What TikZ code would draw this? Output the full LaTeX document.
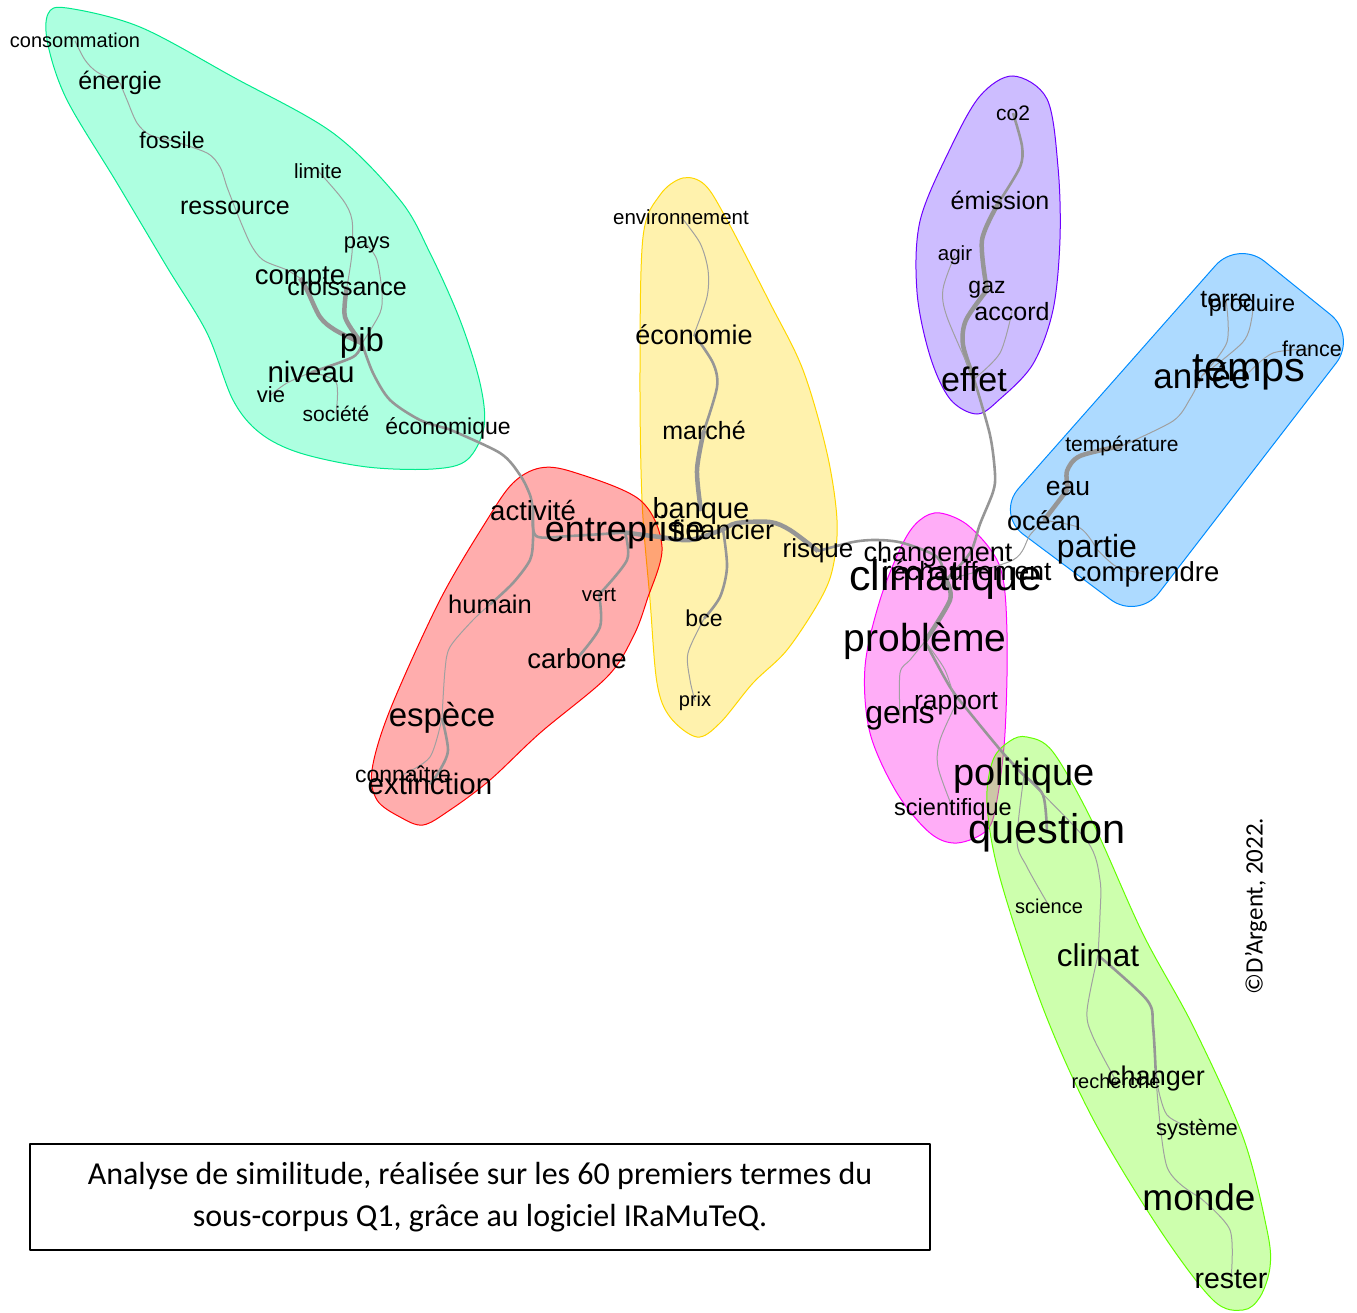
\documentclass[tikz,border=0pt]{standalone}
\usepackage{fontspec}
\setmainfont{Liberation Sans}
\newfontfamily\calfont{Carlito}
\usetikzlibrary{backgrounds}
\pgfdeclarelayer{hulls}
\pgfdeclarelayer{edges}
\pgfsetlayers{hulls,edges,main}
\newcommand\fz[1]{\fontsize{#1}{#1}\selectfont}
\newcommand\wordnode[5]{\node[wnode, font=\fz{#4}] (#1) at (#2,{#3+0.3*#4}) {#5};}
\definecolor{cMint}{RGB}{0,255,160}\definecolor{bMint}{RGB}{0,235,140}
\definecolor{cYel}{RGB}{255,215,0}\definecolor{bYel}{RGB}{255,215,0}
\definecolor{cRed}{RGB}{255,0,0}\definecolor{bRed}{RGB}{255,0,0}
\definecolor{cPur}{RGB}{100,50,255}\definecolor{bPur}{RGB}{110,0,255}
\definecolor{cBlu}{RGB}{0,140,255}\definecolor{bBlu}{RGB}{0,140,255}
\definecolor{cMag}{RGB}{255,0,230}\definecolor{bMag}{RGB}{255,0,255}
\definecolor{cLgr}{RGB}{100,255,0}\definecolor{bLgr}{RGB}{100,255,0}
\definecolor{edgegray}{RGB}{150,150,150}
\definecolor{thingray}{RGB}{160,160,160}
\tikzset{
  wnode/.style={inner sep=0pt, anchor=base, text=black},
  hull/.style={line width=1pt, fill opacity=0.32},
  ethin/.style={draw=thingray, line width=1pt},
  emed/.style={draw=edgegray, line width=2.6pt},
  ethick/.style={draw=edgegray, line width=4.5pt},
}
\begin{document}
\begin{tikzpicture}[x=1pt,y=-1pt, line join=round, line cap=round]
\useasboundingbox (0,0) rectangle (1357,1313);
% ---------- words ----------
% mint cluster
\wordnode{consommation}{75}{42}{20}{consommation}
\wordnode{energie}{120}{82}{25}{énergie}
\wordnode{fossile}{172}{142}{23}{fossile}
\wordnode{limite}{318}{172}{20.5}{limite}
\wordnode{ressource}{235}{207}{25}{ressource}
\wordnode{pays}{367}{242}{22}{pays}
\wordnode{compte}{300}{276}{27.5}{compte}
\wordnode{croissance}{347}{288}{25}{croissance}
\wordnode{pib}{362}{342}{33}{pib}
\wordnode{niveau}{311}{374}{29.5}{niveau}
\wordnode{vie}{271}{396}{22}{vie}
\wordnode{societe}{336}{415}{21}{société}
\wordnode{economique}{448}{428}{23}{économique}
% yellow cluster
\wordnode{environnement}{681}{218}{20.5}{environnement}
\wordnode{economie}{694}{336}{27}{économie}
\wordnode{marche}{704}{432}{25}{marché}
\wordnode{banque}{701}{510}{29}{banque}
\wordnode{financier}{723}{531}{27}{financier}
\wordnode{bce}{704}{620}{23}{bce}
\wordnode{prix}{695}{700}{20}{prix}
\wordnode{risque}{818}{550}{26}{risque}
% red cluster
\wordnode{activite}{533}{512}{27.5}{activité}
\wordnode{entreprise}{625}{531}{36}{entreprise}
\wordnode{humain}{490}{606}{25.5}{humain}
\wordnode{vert}{599}{595}{20.5}{vert}
\wordnode{carbone}{577}{660}{27.5}{carbone}
\wordnode{espece}{442}{717}{33}{espèce}
\wordnode{connaitre}{403}{776}{23}{connaître}
\wordnode{extinction}{430}{786}{29.5}{extinction}
% magenta cluster
\wordnode{changement}{938}{553}{27}{changement}
\wordnode{climatique}{946}{578}{43}{climatique}
\wordnode{rechauffement}{967}{573}{26.5}{réchauffement}
\wordnode{probleme}{925}{640}{39}{problème}
\wordnode{gens}{900}{714}{32}{gens}
\wordnode{rapport}{956}{702}{26.5}{rapport}
\wordnode{politique}{1024}{774}{38}{politique}
\wordnode{scientifique}{953}{808}{23.5}{scientifique}
\wordnode{question}{1047}{831}{41.5}{question}
% light green cluster
\wordnode{science}{1049}{907}{20}{science}
\wordnode{climat}{1098}{957}{31.5}{climat}
\wordnode{recherche}{1116}{1082}{20}{recherche}
\wordnode{changer}{1156}{1077}{27}{changer}
\wordnode{systeme}{1197}{1129}{22}{système}
\wordnode{monde}{1199}{1199}{37}{monde}
\wordnode{rester}{1231}{1280}{28.5}{rester}
% purple cluster
\wordnode{co2}{1013}{114}{21}{co2}
\wordnode{emission}{1000}{202}{25}{émission}
\wordnode{agir}{955}{254}{20.5}{agir}
\wordnode{gaz}{987}{287}{23}{gaz}
\wordnode{accord}{1012}{313}{25}{accord}
\wordnode{effet}{974}{381}{34}{effet}
% blue cluster
\wordnode{terre}{1226}{300}{25}{terre}
\wordnode{produire}{1252}{304}{23.5}{produire}
\wordnode{france}{1312}{350}{21.5}{france}
\wordnode{temps}{1249}{369}{41.5}{temps}
\wordnode{annee}{1202}{378}{35}{année}
\wordnode{temperature}{1122}{445}{21}{température}
\wordnode{eau}{1068}{488}{26.5}{eau}
\wordnode{ocean}{1044}{522}{27}{océan}
\wordnode{partie}{1097}{548}{32}{partie}
\wordnode{comprendre}{1146}{573}{27.5}{comprendre}
% caption and credit
\node[draw=black, line width=1.8pt, minimum width=900pt, minimum height=106pt, inner sep=0pt,
      align=center, font=\calfont\fontsize{32}{42}\selectfont] (caption) at (480,1197)
  {Analyse de similitude, réalisée sur les 60 premiers termes du\\sous-corpus Q1, grâce au logiciel IRaMuTeQ.};
\node[rotate=90, inner sep=0pt, font=\calfont\fz{25}] (credit) at (1256,906) {©D’Argent, 2022.};
% ---------- hulls ----------
\begin{pgfonlayer}{hulls}
\draw[hull, draw=bMint, fill=cMint] plot[smooth cycle, tension=0.55] coordinates {(48,14) (67,8) (140,27) (233,77) (333,133) (400,200) (430,253) (460,320) (480,383) (484,427) (467,460) (433,469) (367,467) (300,453) (260,433) (233,400) (207,333) (167,267) (117,183) (67,100) (48,45)};
\draw[hull, draw=bYel, fill=cYel] plot[smooth cycle, tension=0.55] coordinates {(683,178) (705,185) (727,220) (770,303) (803,370) (827,453) (837,520) (833,567) (820,600) (787,650) (753,683) (720,723) (697,737) (670,717) (657,683) (650,600) (642,500) (640,370) (643,237) (660,195)};
\draw[hull, draw=bRed, fill=cRed] plot[smooth cycle, tension=0.55] coordinates {(540,468) (573,472) (640,500) (662,547) (647,600) (633,637) (607,677) (540,733) (490,780) (450,810) (423,825) (400,817) (377,800) (372,770) (390,710) (440,600) (487,520) (513,483)};
\draw[hull, draw=bMag, fill=cMag] plot[smooth cycle, tension=0.55] coordinates {(940,513) (970,527) (1000,567) (1007,633) (1005,733) (997,800) (987,830) (957,843) (930,833) (897,793) (870,733) (865,667) (880,600) (903,543) (920,520)};
\draw[hull, draw=bPur, fill=cPur] plot[smooth cycle, tension=0.55] coordinates {(1013,76) (1047,99) (1058,167) (1060,239) (1053,310) (1033,364) (1000,399) (977,414) (950,399) (930,356) (917,292) (920,221) (950,149) (980,96)};
\draw[hull, draw=bBlu, fill=cBlu, rounded corners=34pt] (1238,240) -- (1357,336) -- (1138,620) -- (996,514) -- cycle;
\draw[hull, draw=bLgr, fill=cLgr] plot[smooth cycle, tension=0.55] coordinates {(1027,737) (1053,752) (1093,823) (1143,934) (1193,1026) (1243,1137) (1267,1230) (1270,1267) (1260,1297) (1243,1310) (1213,1300) (1160,1230) (1093,1119) (1043,1008) (1000,878) (987,804) (993,760) (1010,741)};
\end{pgfonlayer}
% ---------- edges ----------
\begin{pgfonlayer}{edges}
% mint
\draw[ethin] plot[smooth] coordinates {(consommation.center) (85,60) (97,72) (energie.center)};
\draw[ethin] plot[smooth] coordinates {(energie.center) (127,100) (137,123) (150,135) (fossile.center)};
\draw[ethin] plot[smooth] coordinates {(fossile.center) (207,153) (220,167) (227,187) (ressource.center)};
\draw[ethin] plot[smooth] coordinates {(ressource.center) (250,243) (263,260) (287,270) (compte.center)};
\draw[ethick] plot[smooth] coordinates {(compte.center) (307,290) (320,317) (335,330) (pib.center)};
\draw[ethick] plot[smooth] coordinates {(croissance.center) (345,317) (pib.center)};
\draw[ethin] plot[smooth] coordinates {(limite.center) (343,200) (352,220) (352,253) (croissance.center)};
\draw[ethin] plot[smooth] coordinates {(pays.center) (377,260) (382,293) (380,313) (pib.center)};
\draw[emed] plot[smooth] coordinates {(pib.center) (353,357) (niveau.center)};
\draw[ethin] plot[smooth] coordinates {(niveau.center) (287,383) (vie.center)};
\draw[ethin] plot[smooth] coordinates {(niveau.center) (336,382) (societe.center)};
\draw[emed] plot[smooth] coordinates {(pib.center) (373,373) (390,400) (420,420) (economique.center)};
% red
\draw[emed] plot[smooth] coordinates {(economique.center) (500,453) (520,475) (530,495) (activite.center)};
\draw[emed] plot[smooth] coordinates {(activite.center) (533,540) (530,560) (513,583) (humain.center)};
\draw[emed] plot[smooth] coordinates {(activite.center) (536,536) (570,536) (entreprise.center)};
\draw[ethick] plot[smooth] coordinates {(entreprise.center) (660,537) (690,540) (financier.center)};
\draw[ethin] plot[smooth] coordinates {(humain.center) (473,620) (450,647) (445,670) (espece.center)};
\draw[emed] plot[smooth] coordinates {(espece.center) (448,750) (440,770) (extinction.center)};
\draw[ethin] plot[smooth] coordinates {(espece.center) (430,757) (connaitre.center)};
\draw[emed] plot[smooth] coordinates {(entreprise.center) (627,560) (vert.center)};
\draw[emed] plot[smooth] coordinates {(vert.center) (600,627) (carbone.center)};
% yellow
\draw[ethin] plot[smooth] coordinates {(environnement.center) (700,243) (708,270) (707,297) (economie.center)};
\draw[emed] plot[smooth] coordinates {(economie.center) (713,363) (717,387) (marche.center)};
\draw[ethick] plot[smooth] coordinates {(marche.center) (697,470) (banque.center)};
\draw[ethick] plot[smooth] coordinates {(financier.center) (737,523) (770,522) (790,530) (risque.center)};
\draw[emed] plot[smooth] coordinates {(financier.center) (727,567) (720,597) (bce.center)};
\draw[ethin] plot[smooth] coordinates {(bce.center) (688,653) (690,680) (prix.center)};
\draw[emed] plot[smooth] coordinates {(risque.center) (853,542) (877,540) (903,543) (937,557) (climatique.center)};
% hub and magenta
\draw[emed] plot[smooth] coordinates {(effet.center) (990,435) (995,474) (993,492) (980,524) (970,553) (climatique.center)};
\draw[ethin] plot[smooth] coordinates {(climatique.center) (1013,560) (1030,535) (ocean.center)};
\draw[ethick] plot[smooth] coordinates {(climatique.center) (950,600) (probleme.center)};
\draw[ethin] plot[smooth] coordinates {(probleme.center) (910,660) (900,673) (gens.center)};
\draw[emed] plot[smooth] coordinates {(probleme.center) (950,687) (970,713) (1003,753) (politique.center)};
\draw[ethin] plot[smooth] coordinates {(probleme.center) (945,670) (rapport.center)};
\draw[ethin] plot[smooth] coordinates {(rapport.center) (940,740) (938,767) (scientifique.center)};
% light green
\draw[emed] plot[smooth] coordinates {(politique.center) (1043,795) (question.center)};
\draw[ethin] plot[smooth] coordinates {(politique.center) (1017,841) (1027,867) (science.center)};
\draw[ethin] plot[smooth] coordinates {(politique.center) (1087,841) (1100,880) (1100,915) (climat.center)};
\draw[emed] plot[smooth] coordinates {(climat.center) (1147,1000) (1153,1026) (changer.center)};
\draw[ethin] plot[smooth] coordinates {(climat.center) (1087,1011) (1093,1037) (recherche.center)};
\draw[ethin] plot[smooth] coordinates {(changer.center) (1167,1115) (systeme.center)};
\draw[ethin] plot[smooth] coordinates {(changer.center) (1167,1167) (monde.center)};
\draw[ethin] plot[smooth] coordinates {(monde.center) (1230,1230) (rester.center)};
% purple
\draw[emed] plot[smooth] coordinates {(co2.center) (1022,146) (1020,167) (emission.center)};
\draw[ethick] plot[smooth] coordinates {(emission.center) (982,240) (gaz.center)};
\draw[ethick] plot[smooth] coordinates {(gaz.center) (966,320) (963,345) (effet.center)};
\draw[ethin] plot[smooth] coordinates {(effet.center) (947,317) (943,289) (agir.center)};
\draw[ethin] plot[smooth] coordinates {(effet.center) (1000,353) (accord.center)};
% blue
\draw[ethick] plot[smooth] coordinates {(ocean.center) (eau.center)};
\draw[ethick] plot[smooth] coordinates {(eau.center) (1067,471) (1080,456) (temperature.center)};
\draw[ethin] plot[smooth] coordinates {(temperature.center) (1173,421) (1190,399) (annee.center)};
\draw[ethin] plot[smooth] coordinates {(annee.center) (1227,342) (terre.center)};
\draw[ethin] plot[smooth] coordinates {(annee.center) (1243,342) (1252,317) (produire.center)};
\draw[ethin] plot[smooth] coordinates {(temps.center) (1273,353) (france.center)};
\draw[ethin] plot[smooth] coordinates {(ocean.center) (1080,528) (partie.center)};
\draw[ethin] plot[smooth] coordinates {(partie.center) (1117,567) (comprendre.center)};
\end{pgfonlayer}
\end{tikzpicture}
\end{document}
